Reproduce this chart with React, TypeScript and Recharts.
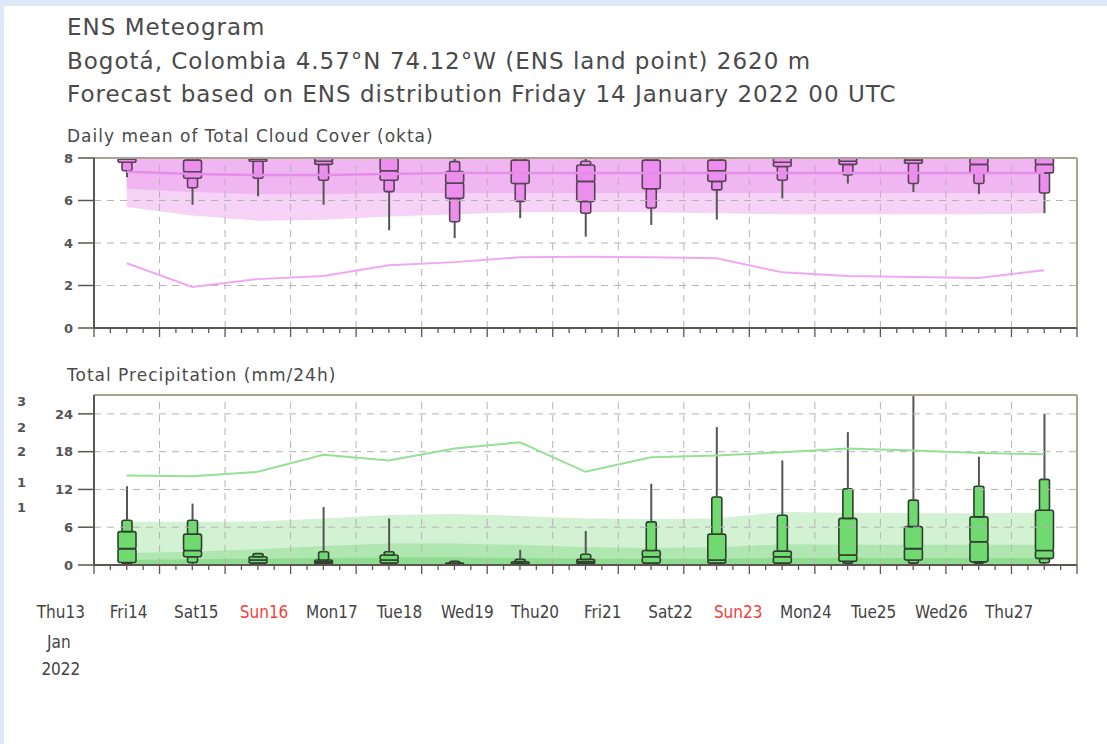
import React from "react";
import { Area, Bar, ComposedChart, Line, ReferenceLine, XAxis, YAxis } from "recharts";

// forecast steps: noon of each day, in days after Fri 14 Jan 00 UTC
const stepDays = [0.5, 1.5, 2.5, 3.5, 4.5, 5.5, 6.5, 7.5, 8.5, 9.5, 10.5, 11.5, 12.5, 13.5, 14.5];

const dayLabels = ["Thu13", "Fri14", "Sat15", "Sun16", "Mon17", "Tue18", "Wed19", "Thu20", "Fri21", "Sat22", "Sun23", "Mon24", "Tue25", "Wed26", "Thu27"];
const sundayLabels = ["Sun16", "Sun23"];

const cloudTicks = [0, 2, 4, 6, 8];
const precTicks = [0, 6, 12, 18, 24];
const dayLines = [1, 2, 3, 4, 5, 6, 7, 8, 9, 10, 11, 12, 13, 14];
const quarterTicks = Array.from({ length: 61 }, (_, i) => i / 4);
// first digits of a clipped axis at the far left of the precipitation panel
const cutLabels = ["3", "2", "2", "1", "1"];

// cloud cover (okta) ensemble boxes
const cloudMin = [7.1, 5.8, 6.2, 5.8, 4.6, 4.23, 5.17, 4.3, 4.85, 5.1, 6.1, 6.8, 6.4, 6.3, 5.4];
const cloudP10 = [7.4, 6.6, 7.05, 6.95, 6.42, 5.0, 5.96, 5.4, 5.65, 6.5, 6.95, 7.2, 6.8, 6.8, 6.35];
const cloudP25 = [7.8, 7.05, 7.85, 7.7, 6.95, 6.1, 6.8, 5.96, 6.55, 6.9, 7.6, 7.7, 7.75, 7.3, 7.3];
const cloudMed = [7.95, 7.35, 7.95, 7.85, 7.4, 6.82, 7.28, 6.9, 7.3, 7.4, 7.8, 7.85, 7.9, 7.7, 7.7];
const cloudP75 = [8, 7.9, 8, 8, 8, 7.36, 7.9, 7.67, 7.9, 7.9, 8, 8, 8, 8, 8];
const cloudP90 = [8, 8, 8, 8, 8, 7.83, 8, 7.85, 8, 8, 8, 8, 8, 8, 8];
const cloudMax = [8, 8, 8, 8, 8, 8, 8, 8, 8, 8, 8, 8, 8, 8, 8];

// cloud cover model climate shading
const cloudOuterLo = [5.7, 5.3, 5.05, 5.1, 5.25, 5.35, 5.45, 5.45, 5.45, 5.4, 5.35, 5.35, 5.35, 5.35, 5.4];
const cloudInnerLo = [6.55, 6.4, 6.3, 6.3, 6.35, 6.35, 6.35, 6.35, 6.35, 6.35, 6.35, 6.35, 6.35, 6.35, 6.35];
const cloudBandHi = [8, 8, 8, 8, 8, 8, 8, 8, 8, 8, 8, 8, 8, 8, 8];
const cloudBandMed = [7.35, 7.25, 7.2, 7.2, 7.25, 7.3, 7.3, 7.3, 7.3, 7.3, 7.3, 7.3, 7.3, 7.3, 7.3];
const cloudLow = [3.05, 1.93, 2.3, 2.45, 2.95, 3.1, 3.33, 3.35, 3.33, 3.28, 2.62, 2.45, 2.4, 2.35, 2.72];

// precipitation (mm/24h) ensemble boxes
const precMin = [0, 0, 0, 0, 0, 0, 0, 0, 0, 0, 0, 0, 0, 0, 0];
const precP10 = [0.2, 0.4, 0.1, 0.05, 0.1, 0, 0, 0.05, 0.1, 0.1, 0.1, 0.3, 0.3, 0.3, 0.35];
const precP25 = [0.4, 1.3, 0.3, 0.2, 0.3, 0.05, 0.1, 0.2, 0.3, 0.3, 0.3, 0.6, 0.8, 0.5, 1.05];
const precMed = [2.6, 2.3, 0.8, 0.5, 0.8, 0.1, 0.2, 0.5, 1.3, 0.8, 1.3, 1.6, 2.6, 3.7, 2.3];
const precP75 = [5.3, 4.9, 1.3, 0.8, 1.6, 0.3, 0.5, 0.9, 2.3, 4.9, 2.2, 7.4, 6.1, 7.65, 8.7];
const precP90 = [7.1, 7.1, 1.8, 2.1, 2.1, 0.6, 0.9, 1.7, 6.85, 10.8, 7.9, 12.1, 10.3, 12.5, 13.6];
const precMax = [12.5, 9.75, 1.9, 9.2, 7.4, 0.7, 2.4, 5.4, 12.9, 21.9, 16.6, 21.1, 27, 17.2, 24.0];

// precipitation model climate shading
const precOuterHi = [6.85, 6.85, 6.9, 7.4, 7.95, 8.1, 7.8, 7.4, 7.3, 7.4, 8.4, 8.3, 8.2, 8.2, 8.3];
const precInnerHi = [1.9, 2.1, 2.5, 3.0, 3.4, 3.4, 3.2, 2.8, 2.7, 2.8, 3.3, 3.2, 3.2, 3.2, 3.2];
const precCoreHi = [0.8, 0.9, 1.0, 1.1, 1.2, 1.2, 1.1, 1.0, 1.0, 1.0, 1.1, 1.1, 1.1, 1.1, 1.1];
const precHigh = [14.2, 14.1, 14.8, 17.5, 16.6, 18.5, 19.5, 14.8, 17.1, 17.4, 17.9, 18.5, 18.2, 17.8, 17.6];

const FONT = "'DejaVu Sans', Verdana, sans-serif";
const COND = "'DejaVu Sans Condensed', 'Liberation Sans Narrow', 'DejaVu Sans', sans-serif";
const AXIS = "#5b5650";
const FRAME = "#aaa293";
const GRID = "#b4b4b4";

function boxSegments(mn: number[], p10: number[], p25: number[], med: number[], p75: number[], p90: number[], mx: number[], i: number) {
  return {
    s0: mn[i],
    s1: p10[i] - mn[i],
    s2: p25[i] - p10[i],
    s3: med[i] - p25[i],
    s4: p75[i] - med[i],
    s5: p90[i] - p75[i],
    s6: mx[i] - p90[i],
  };
}

const cloudRows = stepDays.map((t, i) => ({
  t,
  outer: [cloudOuterLo[i], cloudBandHi[i]],
  inner: [cloudInnerLo[i], cloudBandHi[i]],
  bandMed: cloudBandMed[i],
  low: cloudLow[i],
  ...boxSegments(cloudMin, cloudP10, cloudP25, cloudMed, cloudP75, cloudP90, cloudMax, i),
}));

const precRows = stepDays.map((t, i) => ({
  t,
  outer: precOuterHi[i],
  inner: precInnerHi[i],
  core: precCoreHi[i],
  high: precHigh[i],
  ...boxSegments(precMin, precP10, precP25, precMed, precP75, precP90, precMax, i),
}));

const labelRows = dayLabels.map((label) => ({ label }));

type Kind = "none" | "whisker" | "narrow" | "wide";

function boxShape(kind: Kind, fill: string, stroke: string) {
  return (props: any) => {
    const { x, y, width, height } = props;
    if (kind === "none" || !height || height <= 0) return <g />;
    const cx = x + width / 2;
    if (kind === "whisker") {
      return <line x1={cx} x2={cx} y1={y} y2={y + height} stroke="#555" strokeWidth={2} />;
    }
    const w = kind === "wide" ? 18 : 10;
    return <rect x={cx - w / 2} y={y} width={w} height={height} rx={2} fill={fill} stroke={stroke} strokeWidth={1.6} />;
  };
}

const segKinds: Kind[] = ["none", "whisker", "narrow", "wide", "wide", "narrow", "whisker"];

function boxBars(fill: string, stroke: string) {
  return segKinds.map((k, i) => (
    <Bar
      key={"s" + i}
      dataKey={"s" + i}
      stackId="box"
      barSize={18}
      isAnimationActive={false}
      shape={boxShape(k, fill, stroke)}
    />
  ));
}

const TimeTick = (props: any) => {
  const { x, y, payload } = props;
  const major = Number.isInteger(payload.value);
  return <line x1={x} x2={x} y1={y} y2={y + (major ? 9 : 5)} stroke={AXIS} strokeWidth={1.3} />;
};

const DayTick = (props: any) => {
  const { x, y, payload, index } = props;
  const label = payload.value as string;
  const red = sundayLabels.includes(label);
  const style = { fontFamily: COND, fontSize: 17 };
  return (
    <g>
      <text x={x} y={y + 12} textAnchor="middle" dominantBaseline="central" fill={red ? "#f2413c" : "#444"} style={style}>
        {label}
      </text>
      {index === 0 && (
        <>
          <text x={x - 2} y={y + 42} textAnchor="middle" dominantBaseline="central" fill="#444" style={style}>
            Jan
          </text>
          <text x={x} y={y + 69} textAnchor="middle" dominantBaseline="central" fill="#444" style={style}>
            2022
          </text>
        </>
      )}
    </g>
  );
};

const chartMargin = { top: 8, right: 30, bottom: 0, left: 0 };
const yTickStyle = { fontSize: 13, fill: "#555", fontFamily: FONT, fontWeight: 600 };

function timeAxis() {
  return (
    <XAxis
      type="number"
      dataKey="t"
      domain={[0, 15]}
      ticks={quarterTicks}
      interval={0}
      tick={<TimeTick />}
      tickLine={false}
      tickSize={0}
      tickMargin={0}
      height={14}
      axisLine={{ stroke: AXIS, strokeWidth: 2 }}
    />
  );
}

function gridLines(yTicks: number[], yTop: number) {
  return [
    ...yTicks
      .filter((v) => v > 0 && v < yTop)
      .map((v) => <ReferenceLine key={"h" + v} y={v} stroke={GRID} strokeDasharray="7 6" />),
    ...dayLines.map((d) => <ReferenceLine key={"v" + d} x={d} stroke={GRID} strokeDasharray="7 6" />),
    <ReferenceLine key="top" y={yTop} stroke={FRAME} strokeWidth={2} />,
    <ReferenceLine key="right" x={15} stroke={FRAME} strokeWidth={2} />,
  ];
}

function CloudChart() {
  return (
    <ComposedChart width={1107} height={192} data={cloudRows} margin={chartMargin}>
      {timeAxis()}
      <YAxis
        type="number"
        domain={[0, 8]}
        ticks={cloudTicks}
        interval={0}
        width={94}
        tickSize={16}
        tickMargin={5}
        tick={yTickStyle}
        tickLine={{ stroke: AXIS, strokeWidth: 1.5 }}
        axisLine={{ stroke: AXIS, strokeWidth: 2 }}
      />
      <Area dataKey="outer" type="linear" stroke="none" fill="#f5d2f6" fillOpacity={1} isAnimationActive={false} />
      <Area dataKey="inner" type="linear" stroke="none" fill="#efb6f1" fillOpacity={1} isAnimationActive={false} />
      {gridLines(cloudTicks, 8)}
      <Line dataKey="bandMed" type="linear" stroke="#e68ce9" strokeWidth={2.5} dot={false} isAnimationActive={false} />
      <Line dataKey="low" type="linear" stroke="#f0a8f2" strokeWidth={2} dot={false} isAnimationActive={false} />
      {boxBars("#ec8eec", "#574257")}
    </ComposedChart>
  );
}

function PrecipChart() {
  return (
    <ComposedChart width={1107} height={192} data={precRows} margin={chartMargin}>
      {timeAxis()}
      <YAxis
        type="number"
        domain={[0, 27]}
        allowDataOverflow
        ticks={precTicks}
        interval={0}
        width={94}
        tickSize={16}
        tickMargin={5}
        tick={yTickStyle}
        tickLine={{ stroke: AXIS, strokeWidth: 1.5 }}
        axisLine={{ stroke: AXIS, strokeWidth: 2 }}
      />
      <Area dataKey="outer" type="linear" stroke="none" fill="#d3f1d3" fillOpacity={1} isAnimationActive={false} />
      <Area dataKey="inner" type="linear" stroke="none" fill="#b0e6b0" fillOpacity={1} isAnimationActive={false} />
      <Area dataKey="core" type="linear" stroke="none" fill="#8fdb8f" fillOpacity={1} isAnimationActive={false} />
      {gridLines(precTicks, 27)}
      <Line dataKey="high" type="linear" stroke="#96e096" strokeWidth={2} dot={false} isAnimationActive={false} />
      {boxBars("#70d970", "#2f3f2f")}
    </ComposedChart>
  );
}

function LabelRow() {
  return (
    <ComposedChart width={1107} height={100} data={labelRows} margin={{ top: 0, right: 64, bottom: 0, left: 27 }}>
      <XAxis
        dataKey="label"
        type="category"
        scale="band"
        interval={0}
        height={95}
        tickLine={false}
        axisLine={false}
        tickSize={0}
        tickMargin={0}
        tick={<DayTick />}
      />
    </ComposedChart>
  );
}

const textStyle: React.CSSProperties = {
  position: "absolute",
  left: 67,
  fontFamily: FONT,
  color: "#4a4a4a",
  whiteSpace: "nowrap",
  lineHeight: 1,
};

export default function App() {
  return (
    <div style={{ position: "absolute", left: 0, top: 0, width: 1107, height: 744, background: "#dde8f8", overflow: "hidden" }}>
      <div style={{ position: "absolute", left: 4, top: 6, width: 1103, height: 738, background: "#ffffff" }} />
      <div style={{ ...textStyle, top: 16, fontSize: 23, letterSpacing: 1 }}>ENS Meteogram</div>
      <div style={{ ...textStyle, top: 50, fontSize: 23, letterSpacing: 1 }}>Bogotá, Colombia 4.57°N 74.12°W (ENS land point) 2620 m</div>
      <div style={{ ...textStyle, top: 83, fontSize: 23, letterSpacing: 1 }}>Forecast based on ENS distribution Friday 14 January 2022 00 UTC</div>
      <div style={{ ...textStyle, top: 128, fontSize: 17, letterSpacing: 1 }}>Daily mean of Total Cloud Cover (okta)</div>
      <div style={{ ...textStyle, top: 367, fontSize: 17, letterSpacing: 1 }}>Total Precipitation (mm/24h)</div>
      {cutLabels.map((s, i) => (
        <div
          key={i}
          style={{
            position: "absolute",
            left: 17,
            top: [395, 421, 445, 476, 501][i],
            fontFamily: FONT,
            fontSize: 13,
            fontWeight: 600,
            color: "#555",
            lineHeight: 1,
          }}
        >
          {s}
        </div>
      ))}
      <div style={{ position: "absolute", left: 0, top: 150 }}>
        <CloudChart />
      </div>
      <div style={{ position: "absolute", left: 0, top: 387 }}>
        <PrecipChart />
      </div>
      <div style={{ position: "absolute", left: 0, top: 595 }}>
        <LabelRow />
      </div>
    </div>
  );
}
